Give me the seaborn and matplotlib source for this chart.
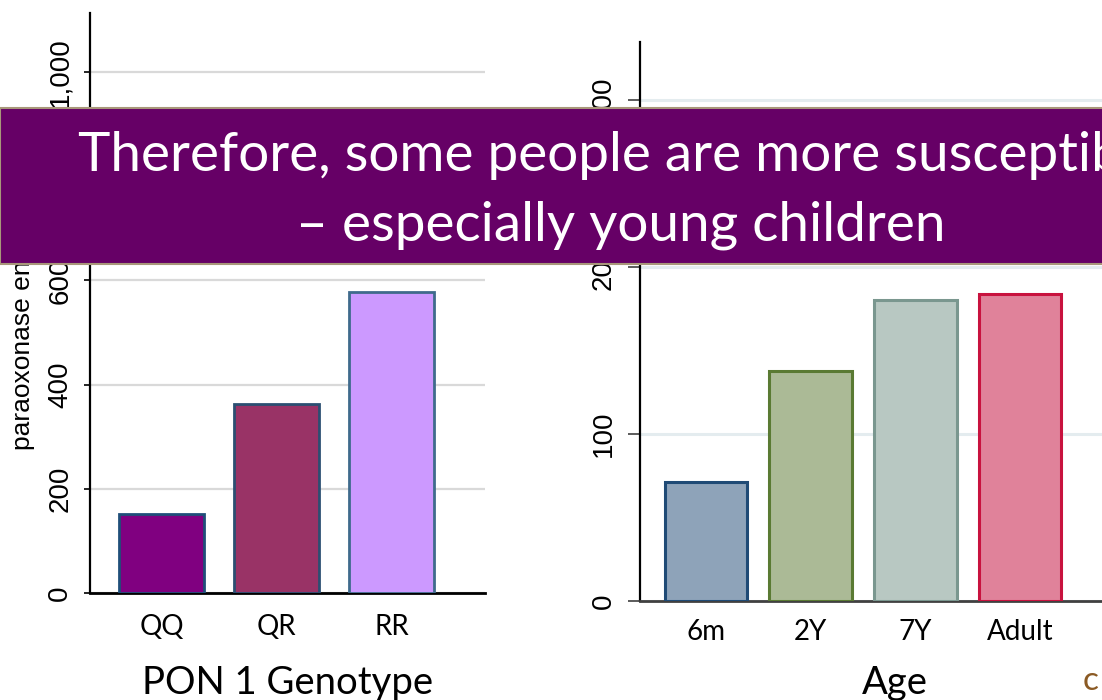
import matplotlib
matplotlib.use("Agg")
import matplotlib.pyplot as plt
import matplotlib.ticker as mticker
from matplotlib.patches import Rectangle
import seaborn as sns

# data
genotypes = ["QQ", "QR", "RR"]
pon1_activity = [152, 363, 578]

ages = ["6m", "2Y", "7Y", "Adult"]
age_activity = [71, 138, 180, 184]

left_ticks = [0, 200, 400, 600, 800, 1000]
right_ticks = [0, 100, 200, 300]

banner_lines = ["Therefore, some people are more susceptible",
                "\u2013 especially young children"]

# styles
geno_fill = ["#800080", "#993366", "#cc99ff"]
geno_edge = ["#1f4e79", "#2b4f72", "#3f6a8c"]
age_fill = ["#8ea3b9", "#abba96", "#b8c8c2", "#e0829a"]
age_edge = ["#1f4a75", "#5a7a33", "#7a978f", "#c8123e"]

sns.set_theme(style="white")
plt.rcParams["font.family"] = ["Liberation Sans", "DejaVu Sans"]
cat_font = ["Lato", "DejaVu Sans"]
num_font = ["Liberation Sans Narrow", "Liberation Sans", "DejaVu Sans"]

fig = plt.figure(figsize=(11.02, 7), dpi=100)
W, H = 1102, 700


def style_axis(ax, tick_len, tick_col, base_col, xpad):
    for s in ["top", "right"]:
        ax.spines[s].set_visible(False)
    ax.spines["left"].set(color="black", lw=1.6)
    ax.spines["bottom"].set(color=base_col, lw=2.0)
    ax.set_axisbelow(True)
    ax.tick_params(axis="y", left=True, length=tick_len, width=1.2, color=tick_col,
                   pad=8, labelsize=20, labelrotation=90, labelcolor="black")
    ax.tick_params(axis="x", bottom=False, pad=xpad, labelsize=20, labelcolor="black")
    for t in ax.get_xticklabels():
        t.set_family(cat_font)
    for t in ax.get_yticklabels():
        t.set_va("center")
        t.set_family(num_font)


# ---- left panel: genotype
ax1 = fig.add_axes([90 / W, 1 - 593 / H, (485 - 90) / W, (593 - 13) / H])
sns.barplot(x=genotypes, y=pon1_activity, hue=genotypes, palette=geno_fill,
            saturation=1, legend=False, width=0.74, linewidth=2, ax=ax1, zorder=3)
for p, ec in zip(ax1.patches, geno_edge):
    p.set_edgecolor(ec)
ax1.set_xlim(-0.626, 2.81)
ax1.set_ylim(0, 1113)
ax1.set_yticks(left_ticks)
ax1.yaxis.set_major_formatter(mticker.StrMethodFormatter("{x:,.0f}"))
ax1.yaxis.grid(True, color="#d9d9d9", lw=1.6, zorder=0)
style_axis(ax1, 4, "black", "black", 9)
ax1.set_xlabel("PON 1 Genotype", fontsize=27.5, family=cat_font, color="black")
ax1.xaxis.set_label_coords(0.5, -0.124)
ax1.set_ylabel("paraoxonase enzyme activity", fontsize=19, color="black")
ax1.yaxis.label.set(rotation_mode="default", va="bottom", ha="center")
ax1.yaxis.set_label_coords((23 - 90) / 395, (593 - 450) / 580)

# ---- right panel: age
ax2 = fig.add_axes([640 / W, 1 - 601 / H, (W - 640) / W, (601 - 42) / H])
sns.barplot(x=ages, y=age_activity, hue=ages, palette=age_fill,
            saturation=1, legend=False, width=0.79, linewidth=2.2, ax=ax2, zorder=3)
for p, ec in zip(ax2.patches, age_edge):
    p.set_edgecolor(ec)
ax2.set_xlim(-0.631, 3.783)
ax2.set_ylim(0, 334.7)
ax2.set_yticks(right_ticks)
ax2.yaxis.grid(True, color="#e4ecef", lw=2.2, zorder=0)
style_axis(ax2, 8.5, "#404040", "#404040", 7)
ax2.set_xlabel("Age", fontsize=27.5, family=cat_font, color="black")
ax2.xaxis.set_label_coords((895 - 640) / 462, -0.114)

# ---- title banner laid over the charts
banner = Rectangle((0, 1 - 264 / H), 1.05, (264 - 108) / H, transform=fig.transFigure,
                   facecolor="#660066", edgecolor="#a8977a", lw=1.5, zorder=10)
fig.patches.append(banner)
fig.text(621 / W, 1 - 171 / H, banner_lines[0], ha="center", va="baseline",
         color="white", fontsize=39.5, family=cat_font, zorder=11)
fig.text(621 / W, 1 - 240 / H, banner_lines[1], ha="center", va="baseline",
         color="white", fontsize=39.5, family=cat_font, zorder=11)

fig.text(1083 / W, 1 - 690 / H, "c", ha="left", va="baseline",
         color="#8b5a24", fontsize=24, family=cat_font)

fig.savefig("out.png", dpi=100)
